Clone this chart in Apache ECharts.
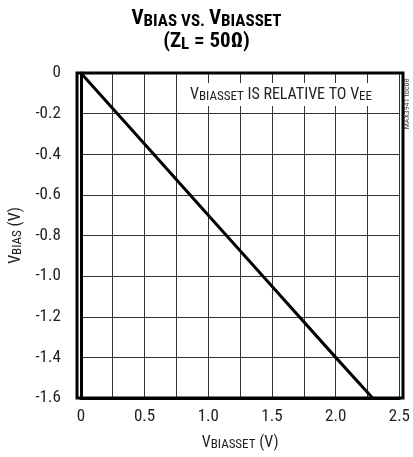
<!DOCTYPE html>
<html><head><meta charset="utf-8">
<script src="https://cdn.jsdelivr.net/npm/echarts@6/dist/echarts.min.js"></script>
<style>html,body{margin:0;padding:0;background:#fff}#c{width:413px;height:457px}</style>
</head><body><div id="c"></div>
<script>
var xTicks = [0, 0.5, 1.0, 1.5, 2.0, 2.5];
var yTicks = [0, -0.2, -0.4, -0.6, -0.8, -1.0, -1.2, -1.4, -1.6];
var vBiasSet = [0, 0.5, 1.0, 1.5, 2.0, 2.29];
var vBias = [0, -0.35, -0.70, -1.05, -1.40, -1.60];

var F = '"Liberation Sans Narrow", "Arial Narrow", "Roboto Condensed", "Liberation Sans", sans-serif';
var chart = echarts.init(document.getElementById('c'));
chart.setOption({
  animation: false,
  title: {
    text: '{b|V}{s|BIAS}{s| VS. }{b|V}{s|BIASSET}\n{b|(Z}{s|L}{b| = 50Ω)}',
    left: 'center', top: 2,
    textStyle: {
      rich: {
        b: {fontFamily: F, fontWeight: 'bold', fontSize: 21, color: '#000', lineHeight: 23},
        s: {fontFamily: F, fontWeight: 'bold', fontSize: 17, color: '#000', verticalAlign: 'bottom', lineHeight: 20}
      }
    }
  },
  grid: {left: 77, right: 10, top: 73, bottom: 59},
  xAxis: {
    type: 'value', min: 0, max: 2.5, interval: 0.25,
    axisLine: {show: true, onZero: false, lineStyle: {color: '#000', width: 3}},
    axisTick: {show: false},
    axisLabel: {
      fontFamily: F, fontSize: 17, color: '#222', margin: 10,
      formatter: function (v) {
        var r = Math.round(v * 100) / 100;
        for (var i = 0; i < xTicks.length; i++) if (Math.abs(xTicks[i] - r) < 1e-6) return r === 0 ? '0' : r.toFixed(1);
        return '';
      }
    },
    splitLine: {show: true, lineStyle: {color: '#333', width: 1}},
    name: '{n|V}{s|BIASSET}{n| (V)}', nameLocation: 'middle', nameGap: 36,
    nameTextStyle: {rich: {
      n: {fontFamily: F, fontSize: 16, color: '#222'},
      s: {fontFamily: F, fontSize: 13, color: '#222', verticalAlign: 'bottom', padding: [4, 0, 0, 0]}
    }}
  },
  yAxis: {
    type: 'value', min: -1.6, max: 0, interval: 0.2,
    axisLine: {show: true, onZero: false, lineStyle: {color: '#000', width: 3}},
    axisTick: {show: false},
    axisLabel: {
      fontFamily: F, fontSize: 17, color: '#222', margin: 20,
      formatter: function (v) {
        var r = Math.round(v * 10) / 10;
        return r === 0 ? '0' : r.toFixed(1);
      }
    },
    splitLine: {show: true, lineStyle: {color: '#333', width: 1}},
    name: '{n|V}{s|BIAS}{n| (V)}', nameLocation: 'middle', nameGap: 55, nameRotate: 90,
    nameTextStyle: {rich: {
      n: {fontFamily: F, fontSize: 16, color: '#222'},
      s: {fontFamily: F, fontSize: 13, color: '#222', verticalAlign: 'bottom', padding: [4, 0, 0, 0]}
    }}
  },
  graphic: [
    {type: 'rect', shape: {x: 77, y: 73, width: 326, height: 325}, style: {fill: 'none', stroke: '#000', lineWidth: 3}, z: 100},
    {type: 'text', left: 186, top: 83, z: 50,
     style: {
       text: '{n|V}{s|BIASSET}{n| IS RELATIVE TO V}{s|EE}',
       backgroundColor: '#fff', padding: [3, 4, 3, 4],
       rich: {
         n: {fontFamily: F, fontSize: 16, fill: '#222'},
         s: {fontFamily: F, fontSize: 13, fill: '#222', verticalAlign: 'bottom', padding: [4, 0, 0, 0]}
       }
     }},
    {type: 'text', x: 407, y: 104, rotation: Math.PI / 2, z: 50,
     style: {text: 'MAX3941 toc08', fontFamily: F, fontSize: 8, fill: '#444', textAlign: 'center', textVerticalAlign: 'middle'}}
  ],
  series: [{
    type: 'line',
    data: vBiasSet.map(function (x, i) { return [x, vBias[i]]; }),
    showSymbol: false,
    lineStyle: {color: '#000', width: 3},
    z: 10
  }]
});
</script></body></html>
